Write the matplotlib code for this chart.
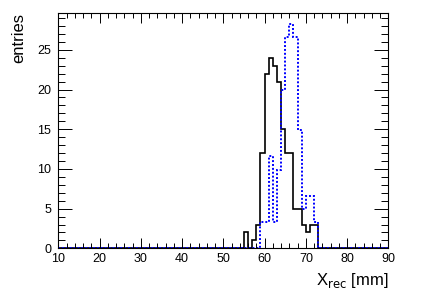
import numpy as np
from matplotlib import pyplot as plt
from matplotlib.ticker import MultipleLocator

plt.rcParams['font.family'] = ['Liberation Sans', 'DejaVu Sans']

# 1 mm bins from 10 to 90 mm; non-empty bins start at 55 mm
first_bin = 55
black_counts = [2, 0, 1, 3, 12, 22, 24, 23, 21, 15, 12, 12, 5, 5, 3, 2, 3, 3]
blue_counts = [0, 0, 0, 0, 3.3, 3.3, 11.6, 3.3, 9.9, 19.9, 26.6, 28.2, 26.6,
               14.9, 5.0, 6.6, 6.6, 3.3]

edges = np.arange(10, 91, 1)
black = np.zeros(len(edges) - 1)
blue = np.zeros(len(edges) - 1)
i0 = first_bin - 10
black[i0:i0 + len(black_counts)] = black_counts
blue[i0:i0 + len(blue_counts)] = blue_counts

fig = plt.figure(figsize=(4.32, 2.96), dpi=100)
ax = fig.add_axes([0.135, 0.161, 0.764, 0.794])

ax.stairs(black, edges, color='black', linewidth=1.2)
ax.stairs(blue, edges, color='#0000ff', linewidth=1.4, linestyle=(0, (1, 1)))

ax.set_xlim(10, 90)
ax.set_ylim(0, 29.6)
ax.xaxis.set_major_locator(MultipleLocator(10))
ax.xaxis.set_minor_locator(MultipleLocator(2))
ax.yaxis.set_major_locator(MultipleLocator(5))
ax.yaxis.set_minor_locator(MultipleLocator(1))
ax.tick_params(which='both', direction='in', top=True, right=True, labelsize=9, width=0.7)
ax.tick_params(axis='x', which='major', length=7, pad=3.5)
ax.tick_params(axis='x', which='minor', length=3.5)
ax.tick_params(axis='y', which='major', length=10, pad=5)
ax.tick_params(axis='y', which='minor', length=5)
for s in ax.spines.values():
    s.set_linewidth(0.8)

ax.set_xlabel(r'X$_{\mathrm{rec}}$ [mm]', fontsize=12, loc='right')
ax.set_ylabel('entries', fontsize=12, loc='top')
ax.yaxis.set_label_coords(-0.098, 1.0)

fig.savefig('out.png', dpi=100)
